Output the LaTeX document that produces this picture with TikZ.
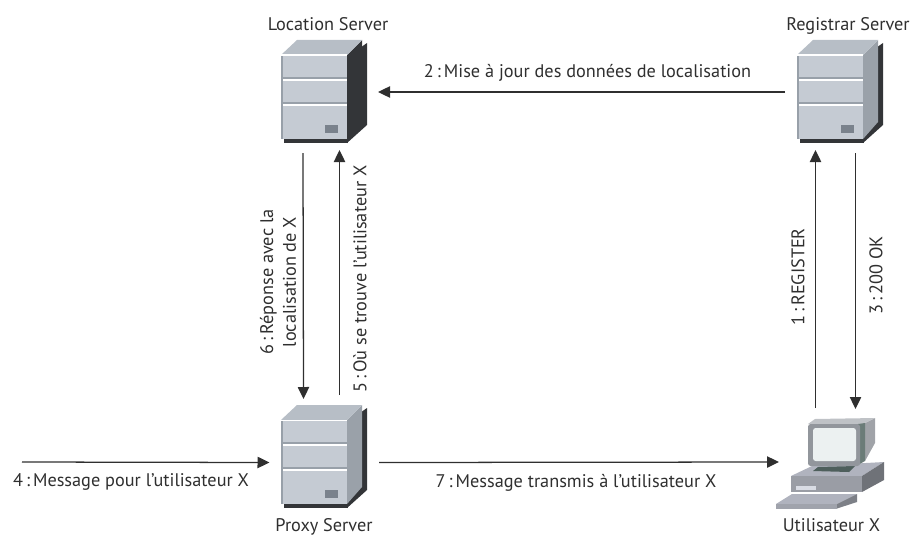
\documentclass[tikz,border=0pt]{standalone}
\usepackage{fontspec}
\setmainfont{PT Sans}
\usetikzlibrary{arrows.meta}
\definecolor{frontc}{HTML}{C5CBD3}
\definecolor{topc}{HTML}{B7BEC6}
\definecolor{edgec}{HTML}{98A0A9}
\definecolor{darkc}{HTML}{333538}
\definecolor{sidec}{HTML}{9AA1A9}
\definecolor{ledc}{HTML}{7A828C}
\definecolor{inkc}{HTML}{2F2F2F}
\tikzset{
  box/.style={anchor=north west,inner sep=0pt,outer sep=0pt,minimum width=64.5pt,minimum height=76.5pt},
  pcbox/.style={anchor=north west,inner sep=0pt,outer sep=0pt,minimum width=81pt,minimum height=69pt},
  arr/.style={draw=inkc,line width=0.95pt,-{Triangle[length=9pt,width=8.5pt]}},
  lab/.style={font=\fontsize{13.7pt}{17pt}\selectfont,text=inkc,inner sep=0pt,align=center},
}
\newcommand{\servergfx}[4]{% x, y, side colour, show grey side flag
  \begin{scope}[shift={(#1,#2)}]
    \fill[darkc] (66,16) -- (86,2) -- (86,84) -- (66,102) -- cycle;
    \fill[#3] (66,14) -- (#4,-1) -- (#4,81) -- (66,98) -- cycle;
    \fill[topc] (0,14) -- (16,-1) -- (81,-1) -- (66,14) -- cycle;
    \fill[darkc] (3,98) rectangle (67,102);
    \fill[frontc] (0,14) rectangle (66,98);
    \fill[edgec] (0,14) rectangle (2,98);
    \fill[white] (0,13.5) rectangle (66,15);
    \fill[edgec] (0,36) rectangle (66,38);
    \fill[white] (2,38) rectangle (66,40);
    \fill[edgec] (0,61) rectangle (66,63);
    \fill[white] (2,63) rectangle (66,64.5);
    \fill[ledc] (44,84) rectangle (57,92);
  \end{scope}
}
\begin{document}
\begin{tikzpicture}[x=0.75pt,y=-0.75pt]
\useasboundingbox (0,0) rectangle (912,535);
% graphics
\servergfx{281}{41}{darkc}{81}
\servergfx{281}{406}{sidec}{81}
\servergfx{797}{41}{sidec}{81}
% computer
\fill[color={rgb,255:red,176;green,179;blue,190}] (791,476) -- (812,466) -- (884,462) -- (862,476) -- cycle;
\fill[color={rgb,255:red,154;green,157;blue,165}] (791,476) rectangle (862,492);
\fill[color={rgb,255:red,111;green,114;blue,120}] (862,476) -- (884,462) -- (884,480) -- (862,492) -- cycle;
\fill[color={rgb,255:red,217;green,220;blue,228}] (796,486) rectangle (816,490);
\fill[color={rgb,255:red,176;green,179;blue,190}] (776,504) -- (792,494) -- (857,494) -- (837,504) -- cycle;
\fill[color={rgb,255:red,160;green,163;blue,172}] (776,504) rectangle (837,508.5);
\fill[color={rgb,255:red,125;green,128;blue,135}] (837,504) -- (857,494) -- (857,502) -- (837,508.5) -- cycle;
\fill[color={rgb,255:red,78;green,95;blue,92}] (813,471) -- (818,467) -- (855,466) -- (849,472) -- cycle;
\fill[color={rgb,255:red,160;green,163;blue,168}] (865,423) -- (875,418) -- (875,443) -- (865,461) -- cycle;
\fill[color={rgb,255:red,191;green,194;blue,198}] (808,424) -- (815,419) -- (875,418) -- (863,424) -- cycle;
\fill[color={rgb,255:red,107;green,124;blue,120}] (858,424) -- (865,423) -- (865,461) -- (858,465) -- cycle;
\fill[color={rgb,255:red,146;green,150;blue,156},rounded corners=2pt] (808,424) rectangle (860,466);
\fill[color={rgb,255:red,236;green,241;blue,241},rounded corners=2pt] (813,428) rectangle (856,461);
% invisible named nodes that carry the connectors
\node[box] (loc) at (281,41) {};
\node[box] (prox) at (281,406) {};
\node[box] (reg) at (797,41) {};
\node[pcbox] (util) at (776,417) {};
\coordinate (ext) at (22,462);
% connectors
\draw[arr] ([shift={(-12,0)}]reg.west) -- ([shift={(11,0)}]loc.east);
\draw[arr] ([shift={(-21,10)}]loc.south) -- ([shift={(-20.5,-7)}]prox.north);
\draw[arr] ([shift={(15.5,-11)}]prox.north) -- ([shift={(15.5,7)}]loc.south);
\draw[arr] (ext) -- ([shift={(-11.5,5.5)}]prox.west);
\draw[arr] ([shift={(12,5.5)}]prox.east) -- ([shift={(3,-1)}]util.west);
\draw[arr] ([shift={(-14.5,-9)}]util.north) -- ([shift={(-24.5,7)}]reg.south);
\draw[arr] ([shift={(15.5,10)}]reg.south) -- ([shift={(25.5,-8)}]util.north);
% labels
\node[lab,anchor=base] (tloc) at (328,30.7) {Location Server};
\node[lab,anchor=base] (treg) at (848,30.7) {Registrar Server};
\node[lab,anchor=base] (tprox) at (324,531.5) {Proxy Server};
\node[lab,anchor=base] (tutil) at (831.5,531.5) {Utilisateur X};
\node[lab] (l2) at (587.5,73) {2\,:\,Mise à jour des données de localisation};
\node[lab] (l4) at (131,481.5) {4\,:\,Message pour l'utilisateur X};
\node[lab] (l7) at (576,483) {7\,:\,Message transmis à l'utilisateur X};
\node[lab,rotate=90] (l6) at (278,282) {6\,:\,Réponse avec la\\localisation de X};
\node[lab,rotate=90] (l5) at (360,279) {5\,:\,Où se trouve l'utilisateur X};
\node[lab,rotate=90] (l1) at (798,277) {1\,:\,REGISTER};
\node[lab,rotate=90] (l3) at (876,275.5) {3\,:\,200 OK};
\end{tikzpicture}
\end{document}
